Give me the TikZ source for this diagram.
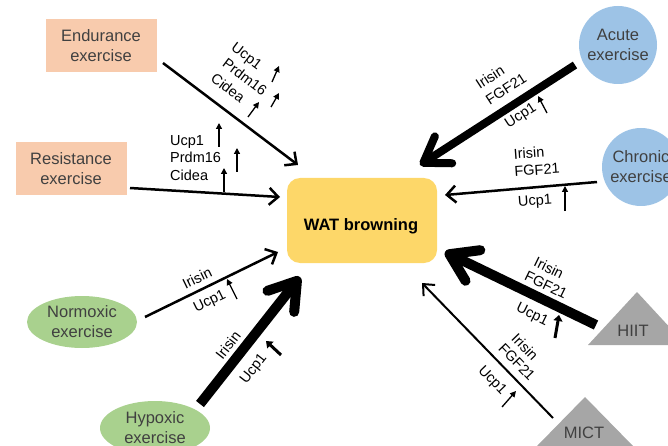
\documentclass[tikz,border=0pt]{standalone}
\usepackage{fontspec}
\setmainfont{Liberation Sans}
\usetikzlibrary{arrows.meta,shapes.geometric}
\definecolor{peach}{HTML}{F8CBAD}
\definecolor{skyb}{HTML}{9DC3E6}
\definecolor{leaf}{HTML}{A9D18E}
\definecolor{gold}{HTML}{FDD769}
\definecolor{stone}{HTML}{A6A6A6}
\definecolor{ink}{HTML}{404040}
\begin{document}
\begin{tikzpicture}[x=1pt,y=-1pt,
  nodefont/.style={font=\fontsize{16.5}{20}\selectfont, text=ink, align=center},
  exbox/.style={nodefont, fill=peach, minimum width=111pt, minimum height=53pt, inner sep=0pt},
  excirc/.style={nodefont, circle, fill=skyb, minimum size=78pt, inner sep=0pt},
  exell/.style={nodefont, ellipse, fill=leaf, minimum width=110pt, minimum height=52pt, inner sep=0pt},
  lbl/.style={font=\fontsize{14.5}{17}\selectfont, inner sep=0pt},
  thinarr/.style={line width=2.5pt, -{Straight Barb[length=9pt,width=17pt]}},
  micarr/.style={line width=2pt, -{Straight Barb[length=9pt,width=16pt]}},
  tickarr/.style={line width=1.3pt, -{Triangle[length=6pt,width=6pt]}},
  bigtick/.style={line width=3pt, -{Triangle[length=6pt,width=9pt]}}
]
\useasboundingbox (0,0) rectangle (668,446);
\clip (0,0) rectangle (668,446);

% main target
\node[fill=gold, rounded corners=13pt, minimum width=150pt, minimum height=85pt, inner sep=0pt] (wat) at (362,220.5) {};
\node[font=\bfseries\fontsize{16.5}{20}\selectfont] (wattext) at (361,226) {WAT browning};

% sources
\node[exbox] (endu) at (101,46) {Endurance\\exercise};
\node[exbox] (resi) at (71,169) {Resistance\\exercise};
\node[excirc] (acute) at (618,45) {Acute\\exercise};
\node[excirc] (chron) at (641,167) {Chronic\\exercise};
\node[exell] (normo) at (82,322) {Normoxic\\exercise};
\node[exell, minimum height=54pt] (hypo) at (155,428) {Hypoxic\\exercise};
\fill[stone] (637,292) -- (588,345) -- (686,345) -- cycle;
\node[nodefont] (hiit) at (633,331) {HIIT};
\fill[stone] (585,397) -- (537,446) -- (633,446) -- cycle;
\node[nodefont] (mict) at (584,433) {MICT};

% connector ends
\coordinate (s1) at (163,63);  \coordinate (t1) at (298,165);
\coordinate (s2) at (130,188); \coordinate (t2) at (280,197);
\coordinate (s3) at (575,65);  \coordinate (t3) at (420,165);
\coordinate (s4) at (597,182); \coordinate (t4) at (445,195);
\coordinate (s5) at (145,317); \coordinate (t5) at (278,252);
\coordinate (s6) at (200,404); \coordinate (t6) at (300,277);
\coordinate (s7) at (596,325); \coordinate (t7) at (445,252);
\coordinate (s8) at (553,418); \coordinate (t8) at (422,283);

\draw[thinarr] (s1) -- (t1);
\draw[thinarr] (s2) -- (t2);
\draw[line width=8pt, -{Straight Barb[length=24pt,width=32pt,round]}] (s3) -- (t3);
\draw[thinarr] (s4) -- (t4);
\draw[thinarr] (s5) -- (t5);
\draw[line width=10pt, -{Straight Barb[length=26pt,width=34pt,round]}] (s6) -- (t6);
\draw[line width=10pt, -{Straight Barb[length=26pt,width=34pt,round]}] (s7) -- (t7);
\draw[micarr] (s8) -- (t8);

% endurance labels
\node[lbl,rotate=-37] (e1) at (246,57) {Ucp1};
\node[lbl,rotate=-37] (e2) at (245,77) {Prdm16};
\node[lbl,rotate=-37] (e3) at (228,88) {Cidea};
\draw[tickarr] (272,82) -- (279,66);
\draw[tickarr] (271,107) -- (279,93);
\draw[tickarr] (248,117) -- (259,102);

% resistance labels
\node[lbl,anchor=base west] (r1) at (170,146) {Ucp1};
\node[lbl,anchor=base west] (r2) at (170,163) {Prdm16};
\node[lbl,anchor=base west] (r3) at (170,181) {Cidea};
\draw[tickarr] (219,147) -- (219,123);
\draw[tickarr] (237,172) -- (237,148);
\draw[tickarr] (224,192) -- (224,168);

% acute labels
\node[lbl,rotate=33] (a1) at (490,77) {Irisin};
\node[lbl,rotate=33] (a2) at (506,89) {FGF21};
\node[lbl,rotate=33] (a3) at (521,116) {Ucp1};
\draw[tickarr] (547,113) -- (538,96);

% chronic labels
\node[lbl,rotate=4] (c1) at (529,153) {Irisin};
\node[lbl,rotate=4] (c2) at (537,170) {FGF21};
\node[lbl,rotate=4] (c3) at (535,202) {Ucp1};
\draw[tickarr] (565,211) -- (565,186);

% normoxic labels
\node[lbl,rotate=26] (n1) at (197,278) {Irisin};
\node[lbl,rotate=26] (n2) at (210,302) {Ucp1};
\draw[tickarr] (237,299) -- (227,279);

% hypoxic labels
\node[lbl,rotate=52] (h1) at (228,345) {Irisin};
\node[lbl,rotate=52] (h2) at (254,369) {Ucp1};
\draw[bigtick] (281,355) -- (266,341);

% HIIT labels
\node[lbl,rotate=-26] (i1) at (549,268) {Irisin};
\node[lbl,rotate=-26] (i2) at (546,285) {FGF21};
\node[lbl,rotate=-26] (i3) at (532,315) {Ucp1};
\draw[bigtick] (555,338) -- (559,315);

% MICT labels
\node[lbl,rotate=-46] (m1) at (525,347) {Irisin};
\node[lbl,rotate=-46] (m2) at (517,362) {FGF21};
\node[lbl,rotate=-46] (m3) at (492,381) {Ucp1};
\draw[tickarr] (502,407) -- (516,391);
\end{tikzpicture}
\end{document}
